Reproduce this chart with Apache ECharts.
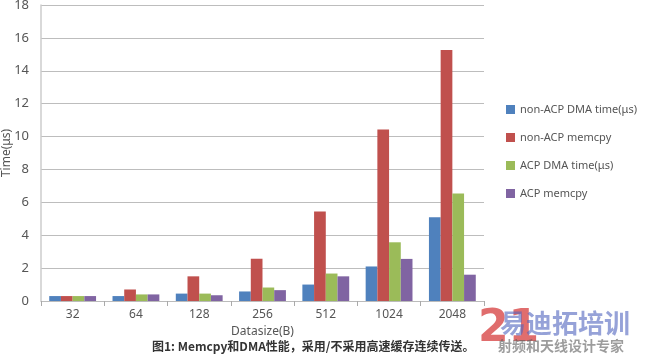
<!DOCTYPE html>
<html><head><meta charset="utf-8">
<script src="https://cdn.jsdelivr.net/npm/echarts@6/dist/echarts.min.js"></script>
<style>html,body{margin:0;padding:0;background:#fff}#c{width:650px;height:356px}</style>
</head><body><div id="c"></div>
<script>
const categories = ['32','64','128','256','512','1024','2048'];
const nonAcpDma = [0.3, 0.3, 0.45, 0.58, 1.0, 2.1, 5.1];
const nonAcpMemcpy = [0.3, 0.7, 1.5, 2.57, 5.45, 10.43, 15.27];
const acpDma = [0.3, 0.4, 0.45, 0.82, 1.67, 3.57, 6.53];
const acpMemcpy = [0.3, 0.4, 0.35, 0.66, 1.5, 2.56, 1.6];
const seriesNames = ['non-ACP DMA time(μs)','non-ACP memcpy','ACP DMA time(μs)','ACP memcpy'];
const colors = ['#4f81bd','#c0504d','#9bbb59','#8064a2'];
const font = '"Noto Sans", "Noto Sans CJK SC", sans-serif';

const chart = echarts.init(document.getElementById('c'), null, {renderer:'canvas'});
const data = [nonAcpDma, nonAcpMemcpy, acpDma, acpMemcpy];
chart.setOption({
  animation:false,
  color: colors,
  textStyle:{fontFamily:font},
  grid:{left:41, right:166, top:5, bottom:55, containLabel:false, outerBoundsMode:'none'},
  legend:{
    orient:'vertical', left:501, top:99, itemWidth:9, itemHeight:9, itemGap:17,
    icon:'rect',
    textStyle:{fontSize:11, color:'#555', fontFamily:font},
    data: seriesNames
  },
  xAxis:{
    type:'category', data:categories,
    name:'Datasize(B)', nameLocation:'middle', nameGap:25, nameMoveOverlap:false,
    nameTextStyle:{fontSize:12, color:'#555'},
    axisLine:{lineStyle:{color:'#bbb'}},
    axisTick:{show:true, length:5, lineStyle:{color:'#aaa'}},
    axisLabel:{fontSize:12, color:'#555', margin:8}
  },
  yAxis:{
    type:'value', min:0, max:18, interval:2,
    name:'Time(μs)', nameLocation:'middle', nameGap:28, nameRotate:90, nameMoveOverlap:false,
    nameTextStyle:{fontSize:12, color:'#555'},
    axisLine:{show:true, lineStyle:{color:'#ccc', width:1.5}},
    axisTick:{show:false},
    axisLabel:{fontSize:13, color:'#555', margin:12},
    splitLine:{lineStyle:{color:'#bdbdbd'}}
  },
  series: seriesNames.map((n,i)=>({
    name:n, type:'bar', data:data[i], barGap:'0%', barCategoryGap:'26%'
  })),
  graphic:[
    {type:'text', left:152, top:340, style:{text:'图1: Memcpy和DMA性能，采用/不采用高速缓存连续传送。', font:'bold 12px "Noto Sans CJK SC", sans-serif', fill:'#333'}},
    {type:'text', left:478, top:308, style:{text:'21', font:'bold 44px "DejaVu Sans", sans-serif', fill:'rgba(214,60,60,0.75)'}},
    {type:'text', left:500, top:310, style:{text:'易迪拓培训', font:'bold 26px "Noto Sans CJK SC", sans-serif', fill:'rgba(80,100,190,0.6)'}},
    {type:'text', left:498, top:339, style:{text:'射频和天线设计专家', font:'bold 14px "Noto Sans CJK SC", sans-serif', fill:'rgba(90,90,90,0.6)'}}
  ]
});
</script></body></html>
